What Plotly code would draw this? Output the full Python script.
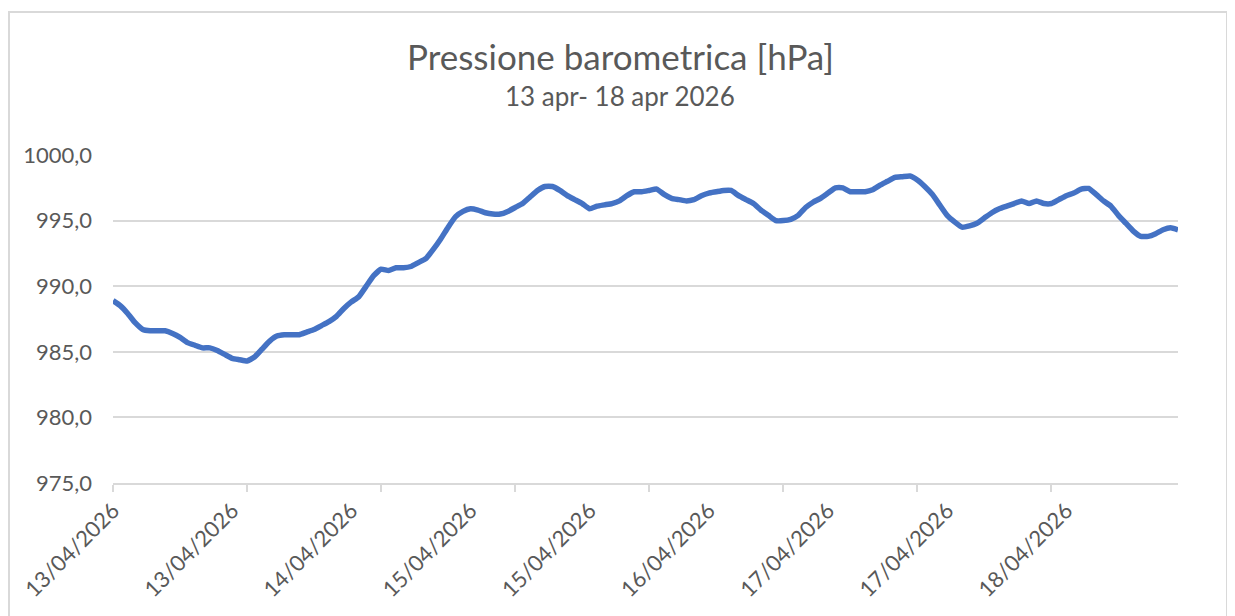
import plotly.graph_objects as go
import pandas as pd

# hourly timestamps 13/04/2026 00:00 -> 18/04/2026 23:00
times = list(pd.date_range("2026-04-13 00:00", periods=144, freq="h"))

pressure = [
    988.9, 988.5, 987.9, 987.2, 986.7, 986.6, 986.6, 986.6, 986.4, 986.1,
    985.7, 985.5, 985.3, 985.3, 985.1, 984.8, 984.5, 984.4, 984.3, 984.6,
    985.2, 985.8, 986.2, 986.3, 986.3, 986.3, 986.5, 986.7, 987.0, 987.3,
    987.7, 988.3, 988.8, 989.2, 990.0, 990.8, 991.3, 991.2, 991.4, 991.4,
    991.5, 991.8, 992.1, 992.8, 993.6, 994.5, 995.3, 995.7, 995.9, 995.8,
    995.6, 995.5, 995.5, 995.7, 996.0, 996.3, 996.8, 997.3, 997.6, 997.6,
    997.3, 996.9, 996.6, 996.3, 995.9, 996.1, 996.2, 996.3, 996.5, 996.9,
    997.2, 997.2, 997.3, 997.4, 997.0, 996.7, 996.6, 996.5, 996.6, 996.9,
    997.1, 997.2, 997.3, 997.3, 996.9, 996.6, 996.3, 995.8, 995.4, 995.0,
    995.0, 995.1, 995.4, 996.0, 996.4, 996.7, 997.1, 997.5, 997.5, 997.2,
    997.2, 997.2, 997.35, 997.7, 998.0, 998.3, 998.35, 998.4, 998.1, 997.6,
    997.0, 996.2, 995.4, 994.9, 994.5, 994.6, 994.8, 995.2, 995.6, 995.9,
    996.1, 996.3, 996.5, 996.3, 996.5, 996.3, 996.3, 996.6, 996.9, 997.1,
    997.4, 997.45, 997.0, 996.5, 996.1, 995.4, 994.8, 994.2, 993.8, 993.8,
    994.0, 994.3, 994.45, 994.3,
]

tick_labels = ["13/04/2026", "13/04/2026", "14/04/2026", "15/04/2026", "15/04/2026",
               "16/04/2026", "17/04/2026", "17/04/2026", "18/04/2026"]
label_positions = times[::16]
tickmark_positions = times[::18]

title_text = "Pressione barometrica [hPa]"
subtitle_text = "13 apr- 18 apr 2026"

FONT = "Lato"
GRAY = "#595959"
GRID = "#d9d9d9"

OFF = 8  # page body margin
W, H = 1235 - OFF, 616 - OFF
# plot area in page pixels: x 113..1178, y 155..483
L = 113 - OFF
T = 155 - OFF
R = W - (1178 - OFF)
B = H - (483 - OFF)
ph = H - T - B
pw = W - L - R

def py(page_y):
    return (483 - page_y) / ph

def px(page_x):
    return (page_x - 113) / pw

fig = go.Figure()
fig.add_trace(go.Scatter(
    x=times, y=pressure, mode="lines",
    line=dict(color="#4472C4", width=5.5, shape="spline", smoothing=0.4),
    hoverinfo="skip", showlegend=False,
))

fig.update_layout(
    width=W, height=H,
    margin=dict(l=L, r=R, t=T, b=B),
    paper_bgcolor="white", plot_bgcolor="white",
    separators=",.",
    font=dict(family=FONT, color=GRAY),
    showlegend=False,
    xaxis=dict(
        type="date",
        range=[times[0], times[-1]],
        tickvals=label_positions,
        ticktext=tick_labels,
        tickangle=-45,
        tickfont=dict(family=FONT, size=22, color=GRAY),
        ticks="outside", ticklen=4, tickcolor="rgba(0,0,0,0)",
        showgrid=False,
        showline=True, linecolor=GRID, linewidth=2,
        zeroline=False,
        minor=dict(tickvals=tickmark_positions, ticks="outside", ticklen=7,
                   tickcolor=GRID, tickwidth=2, showgrid=False),
    ),
    yaxis=dict(
        range=[975, 1000],
        tickvals=[975, 980, 985, 990, 995, 1000],
        tickformat=".1f",
        tickfont=dict(family=FONT, size=22, color=GRAY),
        showgrid=True, gridcolor=GRID, gridwidth=2,
        showline=False, zeroline=False,
        ticks="", ticklabelstandoff=20,
    ),
    annotations=[
        dict(text=title_text, x=px(620), xref="paper", xanchor="center",
             y=py(56), yref="paper", yanchor="middle", showarrow=False,
             font=dict(family=FONT, size=35, color=GRAY)),
        dict(text=subtitle_text, x=px(620), xref="paper", xanchor="center",
             y=py(96), yref="paper", yanchor="middle", showarrow=False,
             font=dict(family=FONT, size=26, color=GRAY)),
    ],
    shapes=[
        dict(type="rect", xref="paper", yref="paper",
             x0=px(9), x1=px(1227), y0=py(640), y1=py(12),
             line=dict(color=GRID, width=2), fillcolor="rgba(0,0,0,0)",
             layer="below"),
    ],
)

fig.write_html("out.html")
